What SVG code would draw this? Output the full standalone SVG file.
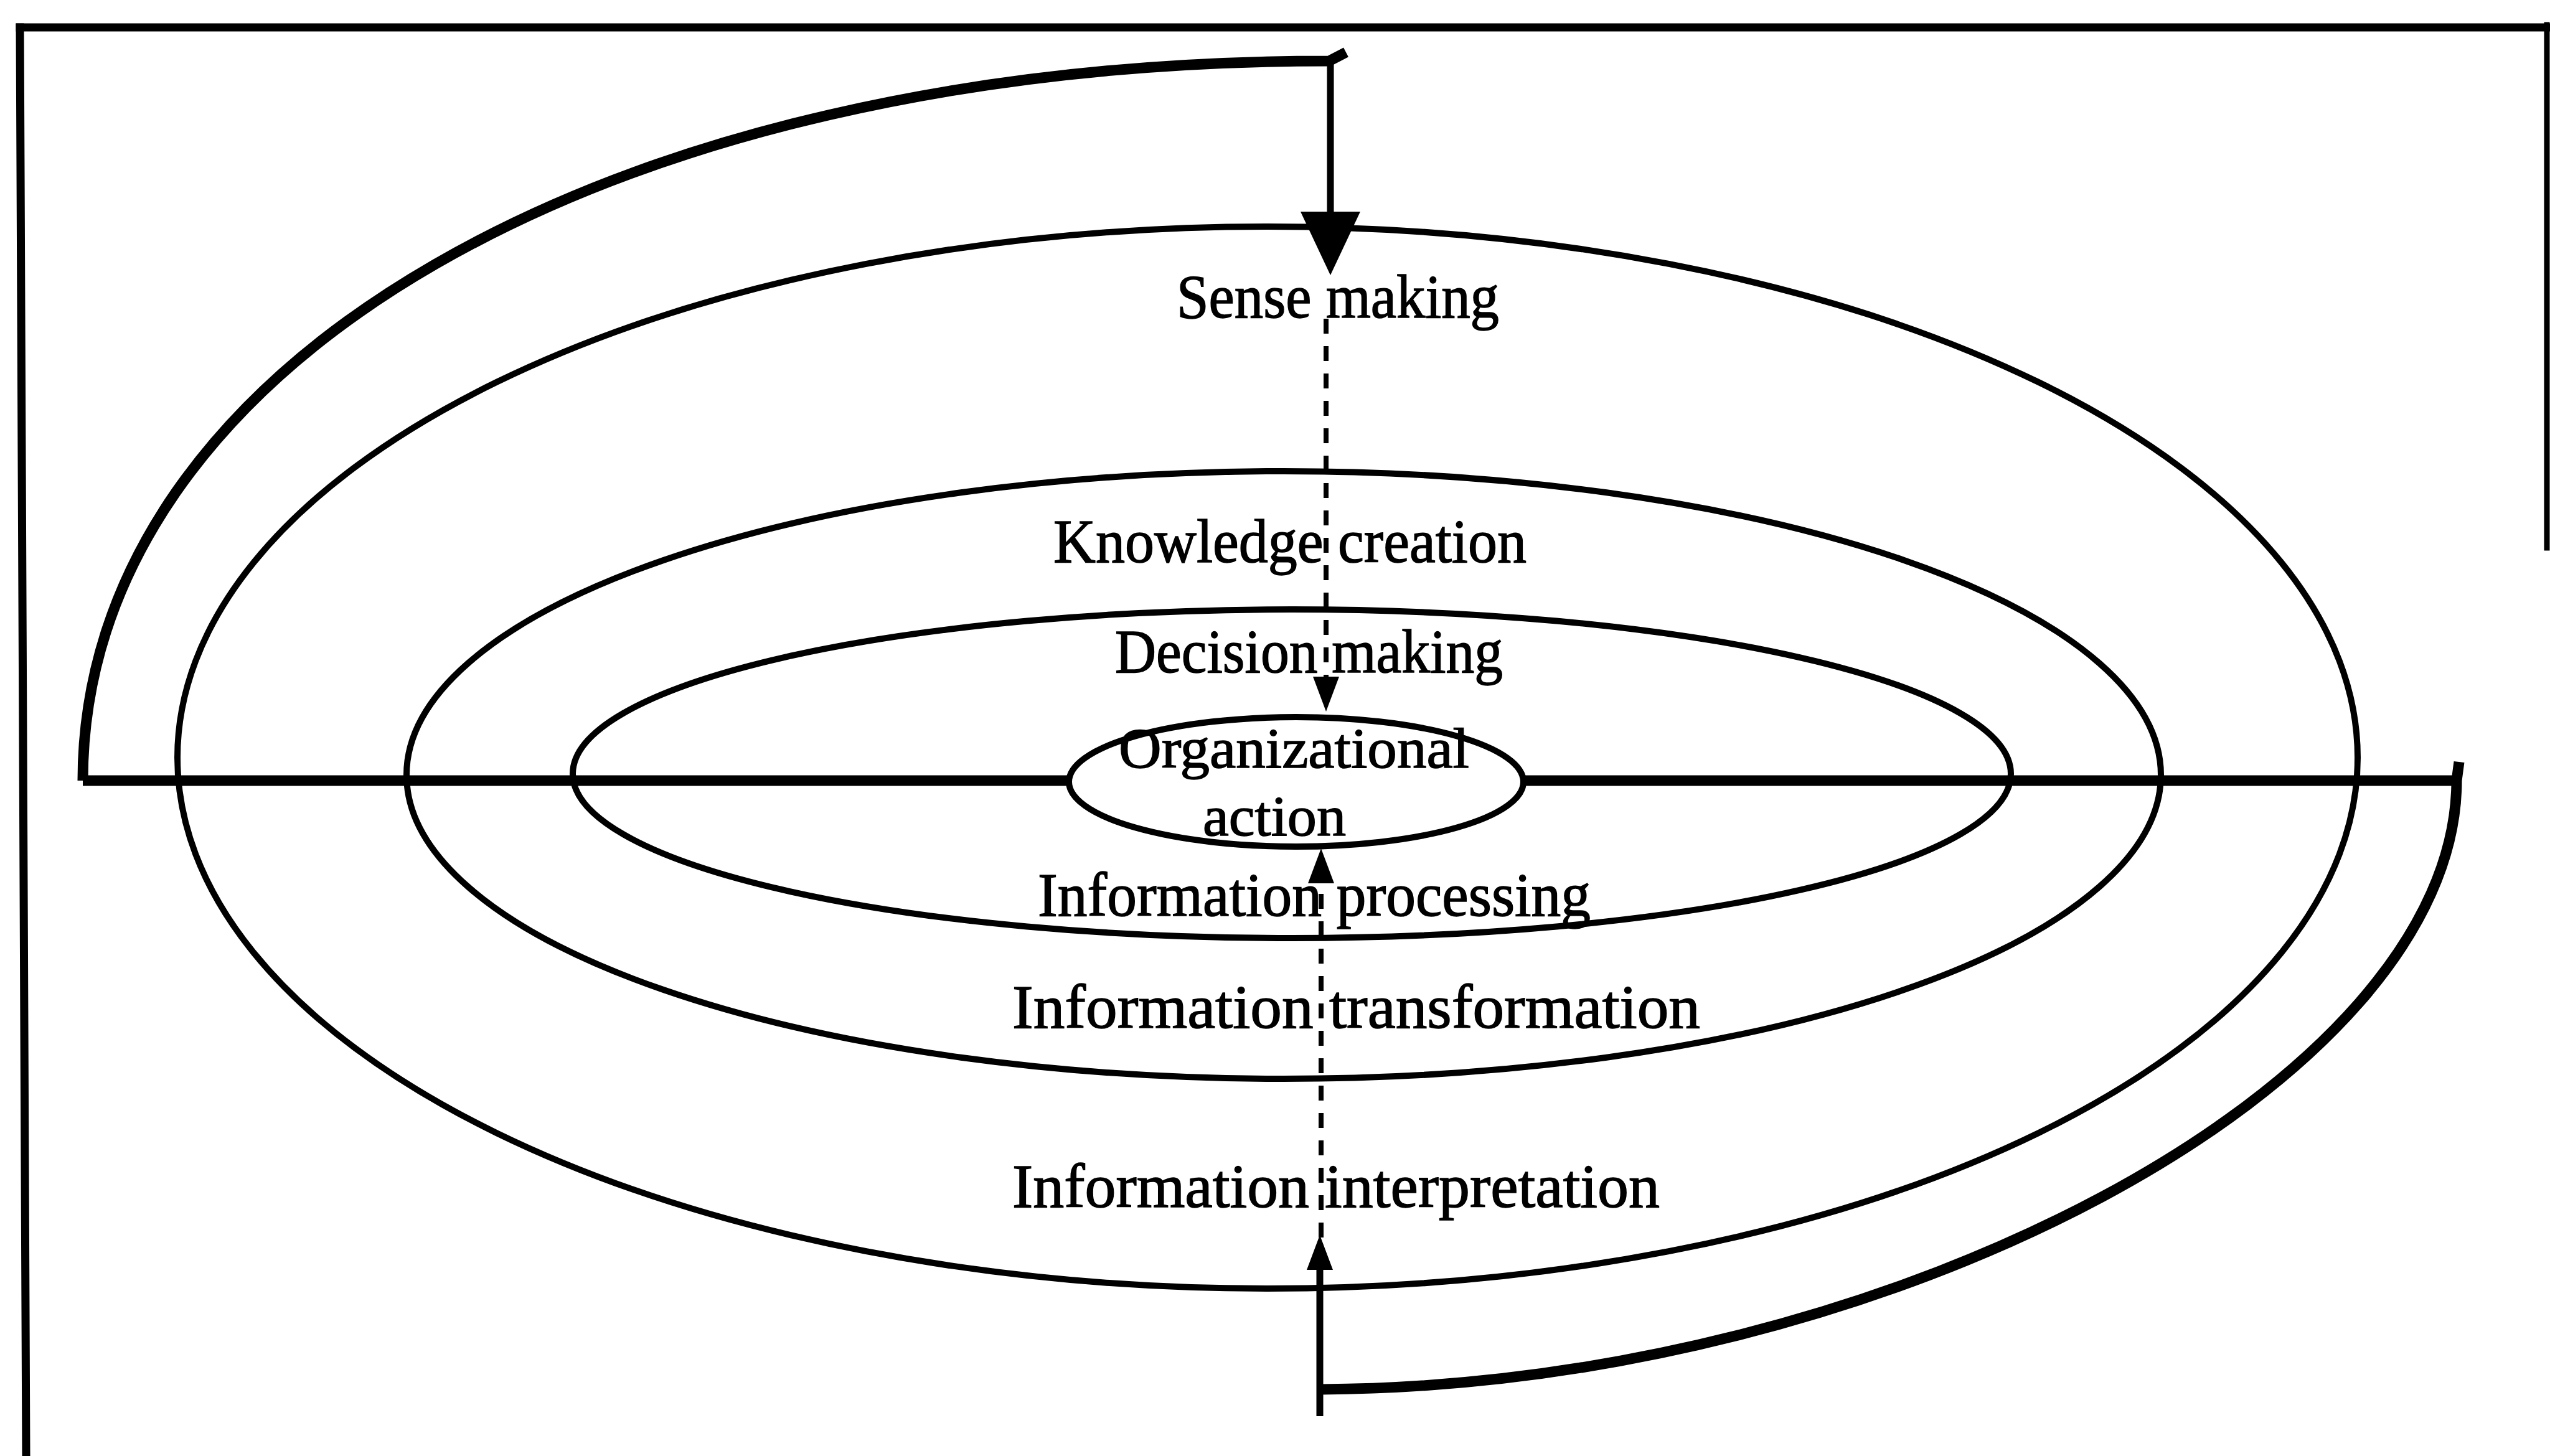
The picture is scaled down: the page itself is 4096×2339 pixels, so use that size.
<svg xmlns="http://www.w3.org/2000/svg" width="4096" height="2339" viewBox="0 0 4096 2339">
  <style>
    .frame { fill: none; stroke: #000; stroke-width: 13; stroke-linecap: square; }
    .ring { fill: none; stroke: #000; stroke-width: 10; }
    .core { fill: #fff; stroke: #000; stroke-width: 10; }
    .spiral { fill: none; stroke: #000; stroke-width: 17; stroke-linejoin: round; stroke-linecap: butt; }
    .solid { fill: none; stroke: #000; stroke-width: 11; }
    .dash { fill: none; stroke: #000; stroke-width: 8; stroke-dasharray: 24 20; }
    .label { font-family: "Liberation Serif", "Times New Roman", serif; font-size: 100px; fill: #000; stroke: #000; stroke-width: 1.5; }
    .small { font-size: 92px; }
  </style>
  <defs>
    <marker id="headBig" markerUnits="userSpaceOnUse" markerWidth="104" markerHeight="98" refX="0" refY="48" orient="auto" overflow="visible">
      <path d="M0,0 L102,48 L0,96 Z" fill="#000"/>
    </marker>
    <marker id="headSmall" markerUnits="userSpaceOnUse" markerWidth="58" markerHeight="44" refX="0" refY="21" orient="auto" overflow="visible">
      <path d="M0,0 L56,21 L0,42 Z" fill="#000"/>
    </marker>
  </defs>

  <rect x="0" y="0" width="4096" height="2339" fill="#fff"/>

  <!-- outer frame -->
  <g id="frame">
    <line class="frame" x1="32" y1="44" x2="4096" y2="44"/>
    <line class="frame" x1="32" y1="44" x2="42" y2="2339"/>
    <line class="frame" x1="4091" y1="40" x2="4091" y2="880" style="stroke-width:9"/>
  </g>

  <!-- concentric layers -->
  <g id="sense-making">
    <ellipse class="ring" cx="2036" cy="1217" rx="1751" ry="853"/>
    <text class="label" x="1890" y="510" textLength="518" lengthAdjust="spacingAndGlyphs">Sense making</text>
  </g>
  <g id="knowledge-creation">
    <ellipse class="ring" cx="2062" cy="1245" rx="1409" ry="488"/>
    <text class="label" x="1692" y="903" textLength="760" lengthAdjust="spacingAndGlyphs">Knowledge creation</text>
  </g>
  <g id="decision-making">
    <ellipse class="ring" cx="2075" cy="1243" rx="1155" ry="264"/>
    <text class="label" x="1791" y="1080" textLength="623" lengthAdjust="spacingAndGlyphs">Decision making</text>
  </g>
  <g id="information-processing">
    <text class="label" x="1667" y="1471" textLength="888" lengthAdjust="spacingAndGlyphs">Information processing</text>
  </g>
  <g id="information-transformation">
    <text class="label" x="1626" y="1651" textLength="1105" lengthAdjust="spacingAndGlyphs">Information transformation</text>
  </g>
  <g id="information-interpretation">
    <text class="label" x="1626" y="1939" textLength="1040" lengthAdjust="spacingAndGlyphs">Information interpretation</text>
  </g>

  <!-- spiral cycle, axis and flow arrows -->
  <g id="connectors">
    <path class="spiral" d="M3946,1254 L133,1254"/>
    <path class="spiral" d="M133,1254 C133,584 974,98 2135,98 L2162,84"/>
    <path class="spiral" d="M3950,1224 L3946,1254 C3946,1740 3034,2226 2122,2232"/>
    <path class="solid" d="M2137,98 V340" marker-end="url(#headBig)"/>
    <path class="dash" d="M2130,512 V1087" marker-end="url(#headSmall)"/>
    <path class="dash" d="M2122,1988 V1419" marker-end="url(#headSmall)"/>
    <path class="solid" d="M2120,2275 V2040" marker-end="url(#headSmall)"/>
  </g>

  <g id="organizational-action">
    <ellipse class="core" cx="2082" cy="1256" rx="365" ry="104"/>
    <text class="label small" x="1797" y="1233" textLength="563" lengthAdjust="spacingAndGlyphs">Organizational</text>
    <text class="label small" x="1932" y="1342" textLength="230" lengthAdjust="spacingAndGlyphs">action</text>
  </g>
</svg>
